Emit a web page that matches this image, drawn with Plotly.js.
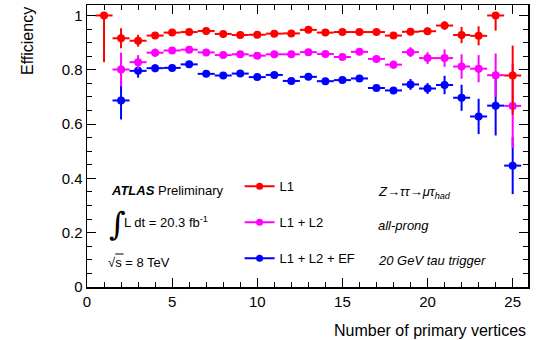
<!DOCTYPE html>
<html><head><meta charset="utf-8">
<script src="https://cdn.plot.ly/plotly-3.0.1.min.js"></script>
<style>body{margin:0;padding:0;background:#fff}#chart{width:537px;height:340px}</style>
</head><body><div id="chart"></div>
<script>
const nvtx = [1,2,3,4,5,6,7,8,9,10,11,12,13,14,15,16,17,18,19,20,21,22,23,24,25];
const binHalfWidth = [0.5,0.5,0.5,0.5,0.5,0.5,0.5,0.5,0.5,0.5,0.5,0.5,0.5,0.5,0.5,0.5,0.5,0.5,0.5,0.5,0.5,0.5,0.5,0.5,0.5];

const effL1 = [1.000,0.916,0.907,0.926,0.937,0.939,0.943,0.932,0.928,0.929,0.933,0.934,0.947,0.937,0.939,0.939,0.939,0.926,0.940,0.942,0.963,0.928,0.925,1.000,0.779];
const errL1Up = [0.000,0.037,0.022,0.012,0.008,0.008,0.008,0.008,0.008,0.008,0.008,0.008,0.008,0.008,0.008,0.008,0.008,0.010,0.012,0.014,0.016,0.030,0.035,0.000,0.110];
const errL1Dn = [0.172,0.037,0.022,0.012,0.008,0.008,0.008,0.008,0.008,0.008,0.008,0.008,0.008,0.008,0.008,0.008,0.008,0.010,0.012,0.014,0.016,0.030,0.035,0.056,0.145];

const effL1L2 = [null,0.801,0.828,0.863,0.871,0.874,0.864,0.854,0.857,0.852,0.857,0.857,0.865,0.858,0.847,0.866,0.840,0.819,0.865,0.843,0.843,0.812,0.804,0.780,0.667];
const errL1L2 = [0,0.062,0.026,0.015,0.010,0.010,0.010,0.010,0.010,0.010,0.010,0.010,0.010,0.010,0.010,0.012,0.012,0.015,0.018,0.022,0.032,0.045,0.050,0.080,0.155];

const effL1L2EF = [null,0.687,0.796,0.806,0.807,0.820,0.785,0.779,0.786,0.773,0.781,0.759,0.774,0.758,0.762,0.768,0.733,0.724,0.746,0.731,0.744,0.697,0.628,0.668,0.447];
const errL1L2EF = [0,0.070,0.025,0.015,0.010,0.010,0.010,0.010,0.010,0.010,0.010,0.010,0.010,0.010,0.010,0.012,0.012,0.012,0.020,0.020,0.034,0.048,0.065,0.110,0.105];

const seriesNames = ['L1','L1 + L2','L1 + L2 + EF'];
const seriesColors = ['#ff0000','#ff00ff','#0000ff'];

function dataTrace(y, up, dn, color) {
  return {
    x: nvtx, y: y, type: 'scatter', mode: 'markers', showlegend: false,
    marker: {color: color, size: 8},
    error_y: {type: 'data', symmetric: false, array: up, arrayminus: dn, color: color, thickness: 2, width: 0},
    error_x: {type: 'data', array: binHalfWidth, color: color, thickness: 2, width: 0},
    cliponaxis: true
  };
}
function legendTrace(i) {
  return {x: [null], y: [null], type: 'scatter', mode: 'lines+markers', name: seriesNames[i],
    legendgroup: 'g' + i, line: {color: seriesColors[i], width: 2}, marker: {color: seriesColors[i], size: 7}};
}

const traces = [
  dataTrace(effL1L2EF, errL1L2EF, errL1L2EF, seriesColors[2]),
  dataTrace(effL1L2, errL1L2, errL1L2, seriesColors[1]),
  dataTrace(effL1, errL1Up, errL1Dn, seriesColors[0]),
  legendTrace(0), legendTrace(1), legendTrace(2)
];

const font = 'Liberation Sans, Arial, Helvetica, sans-serif';
const layout = {
  width: 537, height: 340,
  margin: {l: 87, r: 9, t: 5, b: 52.5},
  paper_bgcolor: '#fff', plot_bgcolor: '#fff',
  font: {family: font, size: 14, color: '#000'},
  showlegend: true,
  legend: {x: 0.346, y: 0.41, xanchor: 'left', yanchor: 'top', bgcolor: 'rgba(0,0,0,0)',
    font: {family: font, size: 13, color: '#000'}, tracegroupgap: 16, traceorder: 'grouped', itemwidth: 30},
  xaxis: {range: [0, 25.9], showline: true, linecolor: '#000', linewidth: 1.5, mirror: 'allticks',
    ticks: 'inside', ticklen: 9, tickwidth: 1, tickcolor: '#000', dtick: 5, tick0: 0,
    minor: {ticks: 'inside', dtick: 1, ticklen: 5, tickcolor: '#000'},
    showgrid: false, zeroline: false, tickfont: {size: 15},
    title: {text: ''}},
  yaxis: {range: [0, 1.0386], showline: true, linecolor: '#000', linewidth: 1.5, mirror: 'allticks',
    ticks: 'inside', ticklen: 9, tickwidth: 1, tickcolor: '#000', dtick: 0.2, tick0: 0,
    minor: {ticks: 'inside', dtick: 0.05, ticklen: 5, tickcolor: '#000'},
    showgrid: false, zeroline: false, tickfont: {size: 15},
    tickvals: [0,0.2,0.4,0.6,0.8,1], ticktext: ['0','0.2','0.4','0.6','0.8','1'],
    title: {text: ''}},
  annotations: [
    {xref: 'paper', yref: 'paper', x: -0.136, y: 1.0, xanchor: 'center', yanchor: 'top', textangle: -90,
      text: 'Efficiency', showarrow: false, font: {size: 16}},
    {xref: 'paper', yref: 'paper', x: 1.0, y: -0.117, xanchor: 'right', yanchor: 'top',
      text: 'Number of primary vertices', showarrow: false, font: {size: 16}},
    {xref: 'paper', yref: 'paper', x: 0.051, y: 0.342, xanchor: 'left', yanchor: 'middle',
      text: '<b><i>ATLAS</i></b> Preliminary', showarrow: false, font: {size: 13}},
    {xref: 'paper', yref: 'paper', x: 0.045, y: 0.225, xanchor: 'left', yanchor: 'middle',
      text: '∫', showarrow: false, font: {size: 32, family: 'DejaVu Serif'}},
    {xref: 'paper', yref: 'paper', x: 0.08, y: 0.232, xanchor: 'left', yanchor: 'middle',
      text: 'L dt = 20.3 fb<sup>-1</sup>', showarrow: false, font: {size: 13}},
    {xref: 'paper', yref: 'paper', x: 0.042, y: 0.088, xanchor: 'left', yanchor: 'middle',
      text: '√s = 8 TeV', showarrow: false, font: {size: 13}},
    {xref: 'paper', yref: 'paper', x: 0.655, y: 0.335, xanchor: 'left', yanchor: 'middle',
      text: '<i>Z→ττ→μτ<sub>had</sub></i>', showarrow: false, font: {size: 13}},
    {xref: 'paper', yref: 'paper', x: 0.655, y: 0.218, xanchor: 'left', yanchor: 'middle',
      text: '<i>all-prong</i>', showarrow: false, font: {size: 13}},
    {xref: 'paper', yref: 'paper', x: 0.655, y: 0.094, xanchor: 'left', yanchor: 'middle',
      text: '<i>20 GeV tau trigger</i>', showarrow: false, font: {size: 13}}
  ],
  shapes: [
    {type: 'line', xref: 'paper', yref: 'paper', x0: 0.064, x1: 0.083, y0: 0.117, y1: 0.117,
      line: {color: '#000', width: 1}}
  ]
};
Plotly.newPlot('chart', traces, layout, {staticPlot: true, displayModeBar: false});
</script></body></html>
